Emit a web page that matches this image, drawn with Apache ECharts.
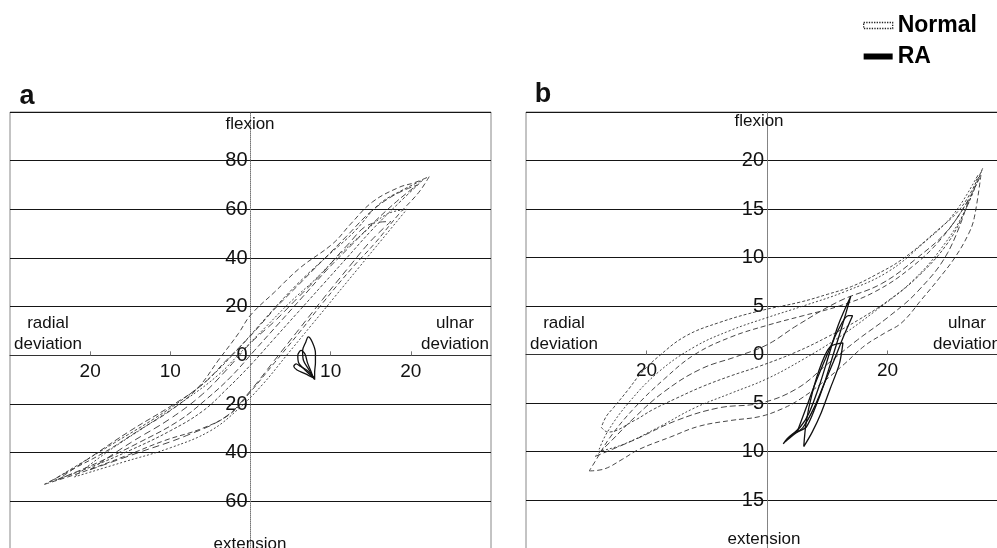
<!DOCTYPE html>
<html><head><meta charset="utf-8">
<script src="https://cdn.jsdelivr.net/npm/echarts@6/dist/echarts.min.js"></script>
<style>html,body{margin:0;padding:0;background:#fff}#c{width:997px;height:548px}</style>
</head><body><div id="c"></div>
<script>
// ---- Panel a: normal wrist (dashed loops), [radial(-)/ulnar(+) deviation, extension(-)/flexion(+)]
const normalA1 = [[-25.7,-53],[-21,-48],[-15.7,-41.5],[-10.7,-35],[-6,-30],[-2.5,-24],[0,-15],[3,-3],[6,9],[9,21.5],[12.7,36],[15.5,46],[18.5,58],[21,67],[22.3,73.5],
  [20.5,71],[18.5,69],[15.2,63],[12.5,54],[10.3,46],[6.2,36],[3,26],[0,16.5],[-1.5,9],[-4,-2],[-6.6,-13.5],[-9.9,-22.5],[-14,-31],[-18.1,-39.6],[-22,-46.5],[-25.7,-53]];
const normalA2 = [[-25,-52],[-20,-46],[-15,-39],[-10,-31],[-6,-23],[-3,-14],[0,-4],[3,7],[6,18],[9,29],[12,40],[15,51],[18,61],[21.5,72],
  [19,68],[16,62],[13,51],[10,42],[7,33],[4,23],[1,12],[-2,1],[-5,-9],[-8,-17],[-12,-26],[-17,-36],[-21,-44],[-25,-52]];
const normalA3 = [[-24,-51],[-19,-44],[-14,-36],[-9,-27],[-5.5,-18],[-2.5,-9],[0.5,2],[3.5,13],[6.5,24],[9.5,35],[12.5,45],[15.5,55],[18.5,64],[20.8,70],
  [18,66],[15,59],[12,49],[9,39],[6,29],[3,19],[0,8],[-3,-2],[-6,-12],[-10,-21],[-15,-31],[-20,-42],[-24,-51]];
const normalA4 = [[-22,-50],[-16,-44],[-10,-38],[-5,-31],[-1.5,-22],[1.5,-12],[4.5,0],[7.5,12],[10.5,24],[13.5,36],[16.5,48],[19.5,60],
  [17,58],[14,50],[11,41],[8,31],[5,22],[2,12],[-1,2],[-4,-8],[-8,-18],[-13,-29],[-18,-40],[-22,-50]];
const normalA5 = [[-20,-47],[-14,-40],[-8,-33],[-3,-25],[0,-14.5],[3,-2],[6,10.5],[9,23],[12.7,38],[15,47],[17.5,55],
  [15,54],[12,45],[9,34],[6,24],[3,14],[0,5],[-3,-6],[-6,-16],[-10,-26],[-15,-36],[-20,-47]];
// ---- Panel a: RA wrist (solid loops)
const raA1 = [[8,-10],[7.3,-6],[6.6,-2],[6.5,2],[6.9,5.5],[7.2,7.6],[7.7,5.5],[8.1,1],[8.1,-3],[8,-7],[8,-10]];
const raA2 = [[7.8,-9],[6.8,-6],[6,-3],[5.9,0],[6.3,2],[6.8,0.5],[7.1,-3],[7.6,-7],[7.8,-9]];
const raA3 = [[8,-9.5],[6.8,-7.5],[5.8,-6],[5.4,-4.5],[5.7,-3.5],[6.2,-4.5],[7,-6],[7.6,-8],[8,-9.5]];
// ---- Panel b: normal wrist
const normalB1 = [[-27.5,-7.5],[-26.4,-8],[-22,-6.8],[-19,-5.7],[-15,-4.5],[-10.7,-3.3],[-6,-2.2],[-1.2,-1.2],[5,0.3],[10,1.8],[15,3.5],[20,5.5],[25,8],[30,11.5],[33,15],[35.8,19.2],
  [32.4,15.3],[27.9,12.6],[22.4,9.8],[18,8.2],[14,7],[10,6.2],[5.5,5.4],[-1.2,4.5],[-7.9,3.3],[-13.5,1.9],[-18,-0.2],[-21,-2],[-23,-3.6],[-25.5,-5.5],[-26.7,-6.4],[-27.5,-7.5]];
const normalB2 = [[-29.5,-12],[-27,-11.8],[-24,-10.8],[-21.3,-9.8],[-16,-8.5],[-11.3,-7.4],[-6,-6.8],[-1.2,-6.4],[2.5,-5.6],[5.5,-4.6],[9,-3],[12.8,-1],[16.2,0.9],[19.5,2.2],[22.4,3.3],[25.7,5.7],[28.5,7.8],[31.3,10.1],[33.5,12.5],[34.4,14.1],[35.5,18.5],
  [33,15.5],[29,12],[24,9],[18,6.5],[12,5],[6,4],[0,3],[-6,1.8],[-12,0],[-17,-2.5],[-22,-5.5],[-26,-8.5],[-28.5,-11],[-29.5,-12]];
const normalB3 = [[-28,-10],[-24,-9.3],[-18,-7.5],[-12,-5.5],[-6,-4],[0,-2.5],[6,-0.5],[12,1.8],[18,4.5],[24,7.5],[29,11],[33,15],[35,18.5],
  [31,14.5],[26,11.5],[20,8.5],[13,6.5],[6,5],[0,3.8],[-6,2.5],[-12,0.8],[-18,-1.8],[-23,-5],[-26.5,-8],[-28,-10]];
const normalB4 = [[-28.5,-10.5],[-22,-8.8],[-15,-6.8],[-8,-5.5],[-1,-5],[5,-3.5],[10,-1],[15,1.5],[20,3.8],[25,6.5],[30,10.5],[33.5,16],
  [30,12.8],[25,10],[19,7.3],[12,5.5],[5,3],[0,1],[-5,-0.2],[-11,-1.5],[-17,-3.8],[-22,-6.5],[-26,-9],[-28.5,-10.5]];
// ---- Panel b: RA wrist
const raB1 = [[13.9,6],[12.5,3],[11,0],[9.5,-3],[8,-5.5],[6.5,-7.5],[5,-8],[3,-9],[2.7,-9.2],[3.3,-8.7],[5.5,-7.5],[7,-6],[8.8,-3],[10.3,0],[11.8,3],[13.9,6]];
const raB2 = [[6.1,-9.5],[6.5,-7],[7.5,-4],[9,-1],[10.5,0.8],[12.6,1.2],[12,-1],[10.5,-3.5],[9,-6],[7.5,-8],[6.1,-9.5]];
const raB3 = [[5,-8],[6.5,-5.5],[8,-3],[10,0],[11.8,2.5],[13.5,4],[14.2,4],[12.8,2],[11.2,-0.5],[9.5,-3],[7.8,-5.5],[6,-7.5],[5,-8]];

const seriesNames = ['Normal', 'RA'];
const panelLabels = ['a', 'b'];
const axisTextA = { top: 'flexion', bottom: 'extension', left: 'radial\ndeviation', right: 'ulnar\ndeviation' };
const axisTextB = { top: 'flexion', bottom: 'extension', left: 'radial\ndeviation', right: 'ulnar\ndeviation' };
// axis ranges: [min, max, interval]
const xRangeA = [-30, 30, 10], yRangeA = [-80, 100, 20];
const xRangeB = [-40, 40, 20], yRangeB = [-20, 25, 5];

const FONT = '"Liberation Sans", Arial, Helvetica, sans-serif';
const chart = echarts.init(document.getElementById('c'), null, { renderer: 'canvas' });

const absFmt = v => (v === 0 ? '' : String(Math.abs(v)));
const absFmtY = v => String(Math.abs(v));

const GRIDS = [
  { left: 10, top: 112, width: 481, height: 438 },
  { left: 526, top: 112, width: 482, height: 436.5 }
];
const XR = [xRangeA, xRangeB], YR = [yRangeA, yRangeB];

// axes cross at the origin: shift the axis lines (and their labels) from the grid edge to 0
function yOffset(i) { const g = GRIDS[i], r = XR[i]; return -(g.width * (0 - r[0]) / (r[1] - r[0])); }
function xOffset(i) { const g = GRIDS[i], r = YR[i]; return -(g.height * (0 - r[0]) / (r[1] - r[0])); }

function xAxisCfg(idx) {
  const r = XR[idx];
  return {
    type: 'value', gridIndex: idx, min: r[0], max: r[1], interval: r[2], position: 'bottom', offset: xOffset(idx),
    axisLine: { show: true, onZero: false, lineStyle: { color: '#333', width: 1 } },
    axisTick: { show: true, inside: true, length: 4, lineStyle: { color: '#777' } },
    axisLabel: { formatter: absFmt, showMinLabel: false, showMaxLabel: false, fontSize: 19, color: '#111', fontFamily: FONT, margin: 7 },
    splitLine: { show: false }
  };
}
function yAxisCfg(idx) {
  const r = YR[idx];
  return {
    type: 'value', gridIndex: idx, min: r[0], max: r[1], interval: r[2], position: 'left', offset: yOffset(idx),
    axisLine: { show: true, onZero: false, lineStyle: { color: '#777', width: 1, type: 'dotted' } },
    axisTick: { show: false },
    axisLabel: { formatter: absFmtY, showMinLabel: false, showMaxLabel: false, fontSize: 20, color: '#111', fontFamily: FONT, margin: 3 },
    splitLine: { show: true, lineStyle: { color: '#151515', width: 1 } }
  };
}

function normalSeries(data, axis, dash) {
  return { name: seriesNames[0], type: 'line', xAxisIndex: axis, yAxisIndex: axis, data, symbol: 'none', smooth: 0.4,
    lineStyle: { color: '#333', width: 0.9, type: dash }, silent: true, z: 3 };
}
function raSeries(data, axis) {
  return { name: seriesNames[1], type: 'line', xAxisIndex: axis, yAxisIndex: axis, data, symbol: 'none', smooth: 0.3,
    lineStyle: { color: '#111', width: 1.3, type: 'solid' }, silent: true, z: 4 };
}

function txt(x, y, text, size, weight, align) {
  return { type: 'text', x, y, z: 10, style: { text, fill: '#111', font: (weight || 'normal') + ' ' + size + 'px ' + FONT,
    align: align || 'center', verticalAlign: 'middle', lineHeight: 21 } };
}

chart.setOption({
  animation: false,
  backgroundColor: '#fff',
  grid: GRIDS.map(g => Object.assign({ show: true, borderColor: '#888', borderWidth: 1, containLabel: false, outerBoundsMode: 'none' }, g)),
  xAxis: [xAxisCfg(0), xAxisCfg(1)],
  yAxis: [yAxisCfg(0), yAxisCfg(1)],
  legend: {
    orient: 'vertical', left: 858, top: 9, itemWidth: 29, itemHeight: 6, itemGap: 8, icon: 'rect',
    textStyle: { fontSize: 23, fontWeight: 'bold', color: '#000', fontFamily: FONT },
    data: [
      { name: seriesNames[0], itemStyle: { color: '#fff', borderColor: '#222', borderWidth: 1.3, borderType: 'dotted' } },
      { name: seriesNames[1], itemStyle: { color: '#000' } }
    ]
  },
  graphic: [
    txt(27, 97, panelLabels[0], 27, 'bold'),
    txt(543, 95, panelLabels[1], 27, 'bold'),
    txt(250, 124, axisTextA.top, 17),
    txt(250, 544, axisTextA.bottom, 17),
    txt(48, 334, axisTextA.left, 17),
    txt(455, 334, axisTextA.right, 17),
    txt(759, 121, axisTextB.top, 17),
    txt(764, 539, axisTextB.bottom, 17),
    txt(564, 334, axisTextB.left, 17),
    txt(967, 334, axisTextB.right, 17)
  ],
  series: [
    normalSeries(normalA1, 0, [5, 3]),
    normalSeries(normalA2, 0, [3, 2]),
    normalSeries(normalA3, 0, [6, 3]),
    normalSeries(normalA4, 0, [2, 2]),
    normalSeries(normalA5, 0, [7, 4]),
    raSeries(raA1, 0), raSeries(raA2, 0), raSeries(raA3, 0),
    normalSeries(normalB1, 1, [3, 2]),
    normalSeries(normalB2, 1, [5, 3]),
    normalSeries(normalB3, 1, [2, 2]),
    normalSeries(normalB4, 1, [6, 3]),
    raSeries(raB1, 1), raSeries(raB2, 1), raSeries(raB3, 1)
  ]
});
</script></body></html>
